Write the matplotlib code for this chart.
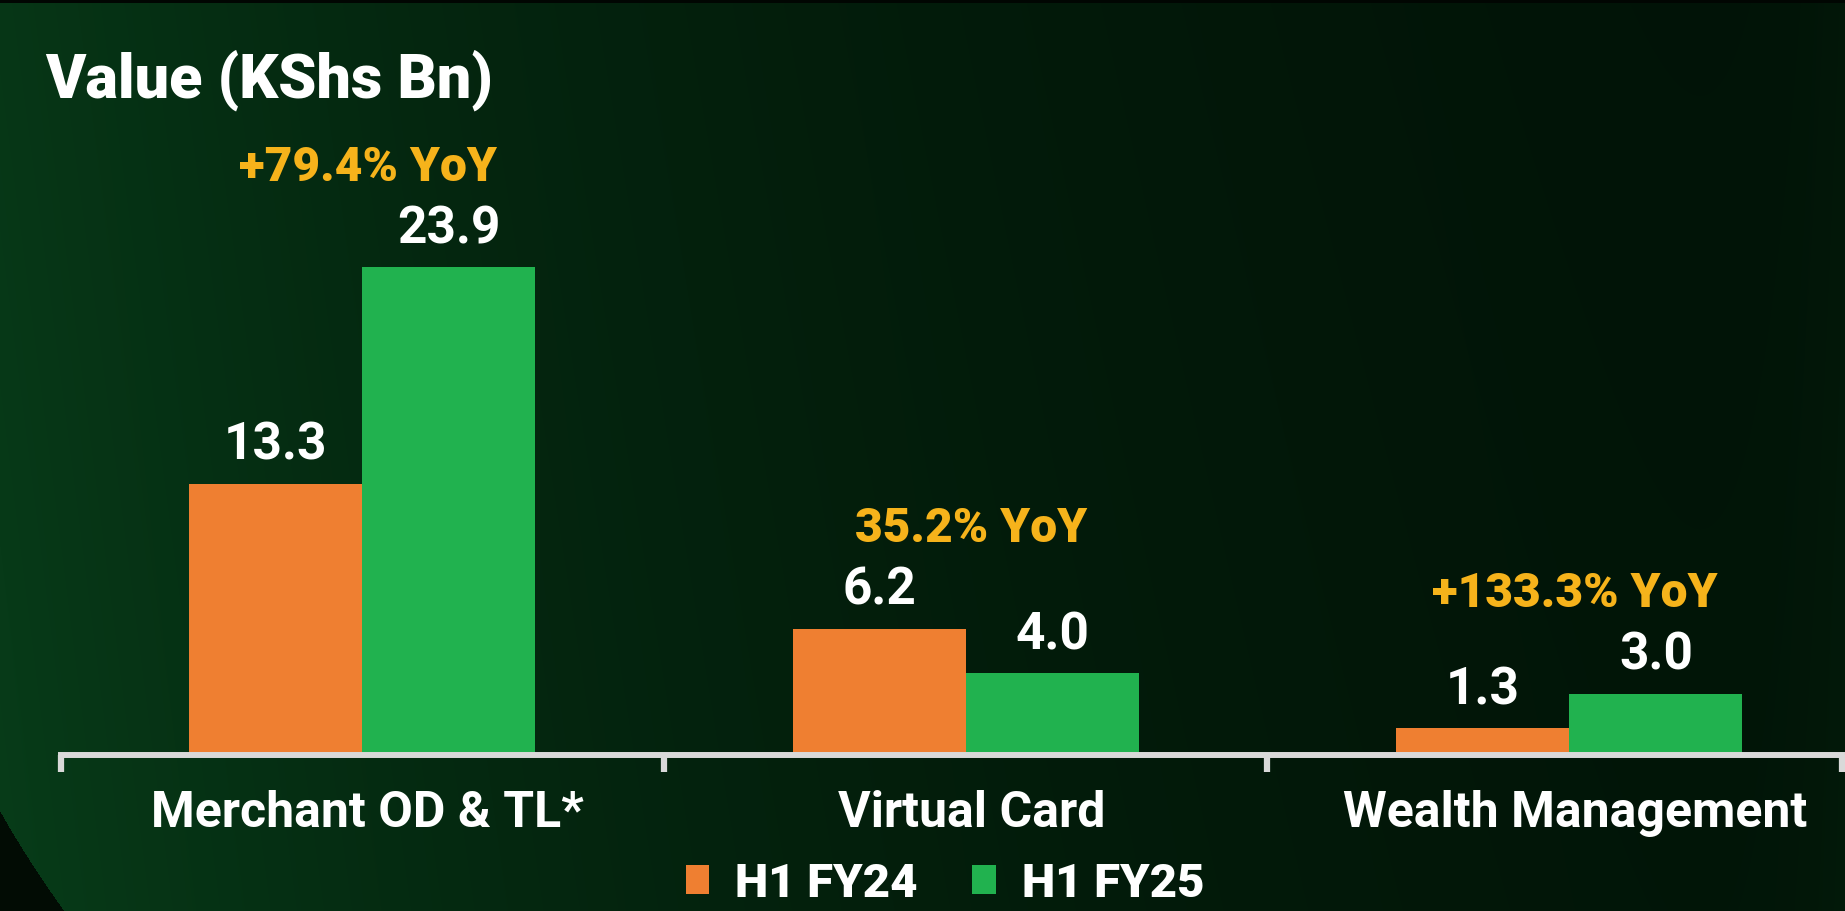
import numpy as np
import matplotlib
matplotlib.use("Agg")
import matplotlib.pyplot as plt
from matplotlib.patches import Patch

# ---- data ----
categories = ["Merchant OD & TL*", "Virtual Card", "Wealth Management"]
series_names = ["H1 FY24", "H1 FY25"]
fy24_values = [13.3, 6.2, 1.3]
fy25_values = [23.9, 4.0, 3.0]
yoy_labels = ["+79.4% YoY", "35.2% YoY", "+133.3% YoY"]
value_labels_24 = ["13.3", "6.2", "1.3"]
value_labels_25 = ["23.9", "4.0", "3.0"]

# ---- style ----
ORANGE = "#EF7F31"
GREEN = "#21B24F"
GOLD = "#F6B31B"
AXIS_GREY = "#D9D9D9"
FONT = ["Roboto", "DejaVu Sans"]

W, H, DPI = 1845, 912, 100
fig = plt.figure(figsize=(W / DPI, H / DPI), dpi=DPI)

# ---- dark green backdrop ----
bg = fig.add_axes([0, 0, 1, 1], zorder=-10)
yy, xx = np.mgrid[0:H, 0:W].astype(float)
t = np.clip(xx / W, 0, 1)
fade = np.exp(-2.2 * t) + 0.12 * np.exp(-(1 - t) / 0.03)
left_col = np.array([7, 58, 24]) / 255.0
right_col = np.array([1, 15, 5]) / 255.0
img = right_col + (left_col - right_col) * fade[..., None]
img *= (0.94 + 0.10 * (yy / H))[..., None]
# rounded panel edge in the lower-left corner
dist = np.hypot(xx - 905, yy - 300)
outside = (dist > 1040) & (xx < 500)
img[outside] = np.array([2, 12, 4]) / 255.0
img[:4, :] = np.array([1, 6, 2]) / 255.0
bg.imshow(np.clip(img, 0, 1), aspect="auto", extent=[0, W, H, 0])
bg.set_axis_off()

# ---- chart axes ----
left_px, right_px = 60.5, 1842
base_px, scale = 756, 20.4          # baseline (px from top), px per unit
cat_px = 603.5
ymax = 30
ax = fig.add_axes([left_px / W, (H - base_px) / H,
                   (right_px - left_px) / W, ymax * scale / H])
ax.patch.set_alpha(0)
n = len(categories)
xmax = (right_px - left_px) / cat_px
ax.set_xlim(0, xmax)
ax.set_ylim(0, ymax)

centers = np.arange(n) + 0.5
bw = 0.287
bars24 = ax.bar(centers - bw / 2, fy24_values, bw, color=ORANGE, zorder=2)
bars25 = ax.bar(centers + bw / 2, fy25_values, bw, color=GREEN, zorder=2)

for spine in ["top", "right", "left"]:
    ax.spines[spine].set_visible(False)
ax.spines["bottom"].set_color(AXIS_GREY)
ax.spines["bottom"].set_linewidth(4.3)
ax.spines["bottom"].set_zorder(3)
ax.set_yticks([])
ax.set_xticks(list(range(n)) + [xmax])
ax.set_xticklabels([])
ax.tick_params(axis="x", direction="out", length=12, width=4.5, color=AXIS_GREY)

# value labels above bars
for bars, labels in [(bars24, value_labels_24), (bars25, value_labels_25)]:
    for b, lab in zip(bars, labels):
        ax.annotate(lab, (b.get_x() + b.get_width() / 2, b.get_height()),
                    xytext=(0, 18), textcoords="offset points",
                    ha="center", va="baseline", color="white",
                    fontsize=37, fontweight="bold", family=FONT)

# YoY growth labels over each group
for c, v24, v25, lab in zip(centers, fy24_values, fy25_values, yoy_labels):
    ax.annotate(lab, (c, max(v24, v25)), xytext=(4, 63),
                textcoords="offset points", ha="center", va="baseline",
                color=GOLD, fontsize=34.5, fontweight="black", family=FONT)

# category names under the axis
for c, lab in zip(centers, categories):
    ax.annotate(lab, (c, 0), xycoords=("data", "axes fraction"),
                xytext=(4, -51), textcoords="offset points",
                ha="center", va="baseline", color="white",
                fontsize=36, fontweight="bold", family=FONT)

# title
fig.text(45 / W, (H - 98) / H, "Value (KShs Bn)", ha="left", va="baseline",
         color="white", fontsize=44, fontweight="black", family=FONT)

# legend
handles = [Patch(facecolor=ORANGE, edgecolor="none"),
           Patch(facecolor=GREEN, edgecolor="none")]
leg = fig.legend(handles, series_names, loc="center",
                 bbox_to_anchor=(945 / W, 28 / H), ncol=2, frameon=False,
                 handlelength=0.5, handleheight=0.55, handletextpad=0.55,
                 columnspacing=1.15,
                 prop={"family": FONT, "weight": "black", "size": 34})
for txt in leg.get_texts():
    txt.set_color("white")

fig.savefig("out.png", dpi=DPI)
